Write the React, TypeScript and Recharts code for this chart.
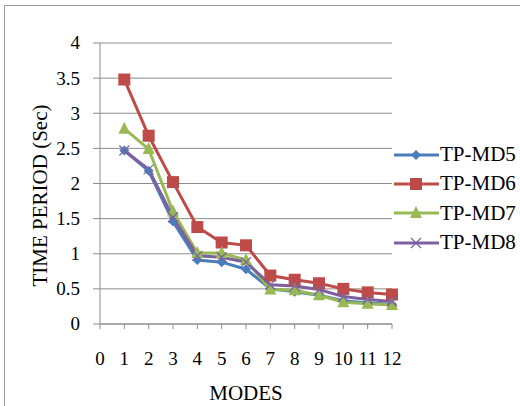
import * as React from "react";
import { LineChart, Line, XAxis, YAxis, CartesianGrid } from "recharts";

const modes = [1, 2, 3, 4, 5, 6, 7, 8, 9, 10, 11, 12];
const tpMd5 = [2.47, 2.18, 1.46, 0.91, 0.88, 0.78, 0.5, 0.46, 0.41, 0.33, 0.3, 0.28];
const tpMd6 = [3.48, 2.68, 2.02, 1.38, 1.16, 1.12, 0.69, 0.63, 0.58, 0.5, 0.45, 0.42];
const tpMd7 = [2.78, 2.49, 1.6, 1.01, 1.01, 0.91, 0.49, 0.48, 0.41, 0.31, 0.29, 0.27];
const tpMd8 = [2.47, 2.2, 1.52, 0.97, 0.95, 0.88, 0.56, 0.54, 0.49, 0.39, 0.35, 0.32];
const xTicks = [0, 1, 2, 3, 4, 5, 6, 7, 8, 9, 10, 11, 12];
const yTicks = [0, 0.5, 1, 1.5, 2, 2.5, 3, 3.5, 4];

const data = modes.map((m, i) => ({
  mode: m,
  md5: tpMd5[i],
  md6: tpMd6[i],
  md7: tpMd7[i],
  md8: tpMd8[i],
}));

const FONT = '"Liberation Serif", "Times New Roman", serif';

const series = [
  { key: "md5", name: "TP-MD5", color: "#4A7EBB", shape: "diamond" },
  { key: "md6", name: "TP-MD6", color: "#BE4B48", shape: "square" },
  { key: "md7", name: "TP-MD7", color: "#98B954", shape: "triangle" },
  { key: "md8", name: "TP-MD8", color: "#7D60A0", shape: "cross" },
];

const Marker = ({ shape, color, cx, cy }: any) => {
  if (cx == null || cy == null) return null;
  if (shape === "diamond")
    return (
      <polygon
        points={`${cx},${cy - 5} ${cx + 5},${cy} ${cx},${cy + 5} ${cx - 5},${cy}`}
        fill={color}
      />
    );
  if (shape === "square")
    return <rect x={cx - 6} y={cy - 6} width={12} height={12} fill={color} />;
  if (shape === "triangle")
    return (
      <polygon
        points={`${cx},${cy - 7} ${cx + 6},${cy + 5} ${cx - 6},${cy + 5}`}
        fill={color}
      />
    );
  return (
    <g stroke={color} strokeWidth={1.2}>
      <line x1={cx - 5} y1={cy - 5} x2={cx + 5} y2={cy + 5} />
      <line x1={cx - 5} y1={cy + 5} x2={cx + 5} y2={cy - 5} />
    </g>
  );
};

// legend sits outside the chart so it doesn't eat plot width
const LegendBox = () => (
  <div
    style={{
      position: "absolute",
      left: 394,
      top: 140,
      fontFamily: FONT,
      fontSize: 21,
      lineHeight: "29.3px",
      color: "#000",
      whiteSpace: "nowrap",
    }}
  >
    {series.map((s) => (
      <div key={s.key} style={{ display: "flex", alignItems: "center", height: 29.3 }}>
        <svg width={46} height={16} style={{ flex: "none" }}>
          <line x1={0} y1={8} x2={45} y2={8} stroke={s.color} strokeWidth={3} />
          <Marker shape={s.shape} color={s.color} cx={22} cy={8} />
        </svg>
        <span>{s.name}</span>
      </div>
    ))}
  </div>
);

const XTick = ({ x, y, payload }: any) => (
  <text
    x={x}
    y={y + 36}
    textAnchor="middle"
    fontSize={19}
    fontFamily={FONT}
    fill="#000"
  >
    {payload.value}
  </text>
);

const YTick = ({ y, payload }: any) => (
  <text
    x={80}
    y={y}
    dy="0.34em"
    textAnchor="end"
    fontSize={19}
    fontFamily={FONT}
    fill="#000"
  >
    {payload.value}
  </text>
);

const YTitle = ({ viewBox }: any) => {
  const x = (viewBox?.x ?? 0) + 40;
  const y = (viewBox?.y ?? 0) + (viewBox?.height ?? 0) / 2 + 12;
  return (
    <text
      x={x}
      y={y}
      transform={`rotate(-90 ${x} ${y})`}
      textAnchor="middle"
      dominantBaseline="central"
      fontSize={21}
      fontFamily={FONT}
      fill="#000"
    >
      TIME PERIOD (Sec)
    </text>
  );
};

export default function App() {
  return (
    <div
      style={{
        position: "absolute",
        left: 0,
        top: 0,
        width: 520,
        height: 406,
        background: "#fff",
        overflow: "hidden",
        fontFamily: FONT,
      }}
    >
      <div
        style={{
          position: "absolute",
          left: 4,
          top: 5,
          width: 530,
          height: 420,
          border: "1px solid #9a9a9a",
        }}
      />
      <LineChart
        width={520}
        height={406}
        data={data}
        margin={{ top: 43, right: 128, left: 0, bottom: 0 }}
        style={{ fontFamily: FONT }}
      >
        <CartesianGrid vertical={false} stroke="#8c8c8c" />
        <XAxis
          dataKey="mode"
          type="number"
          domain={[0, 12]}
          ticks={xTicks}
          interval={0}
          height={82}
          tickSize={5}
          tickMargin={0}
          stroke="#8c8c8c"
          tick={<XTick />}
          label={{
            value: "MODES",
            position: "insideBottom",
            offset: 6,
            fill: "#000",
            fontSize: 21,
            fontFamily: FONT,
          }}
        />
        <YAxis
          type="number"
          domain={[0, 4]}
          ticks={yTicks}
          width={100}
          tickSize={7}
          tickMargin={0}
          stroke="#8c8c8c"
          tick={<YTick />}
          label={<YTitle />}
        />
        {series.map((s) => (
          <Line
            key={s.key}
            dataKey={s.key}
            name={s.name}
            stroke={s.color}
            strokeWidth={3}
            isAnimationActive={false}
            dot={(p: any) => (
              <Marker
                key={`${s.key}-${p.index}`}
                shape={s.shape}
                color={s.color}
                cx={p.cx}
                cy={p.cy}
              />
            )}
            activeDot={false}
          />
        ))}
      </LineChart>
      <LegendBox />
    </div>
  );
}
